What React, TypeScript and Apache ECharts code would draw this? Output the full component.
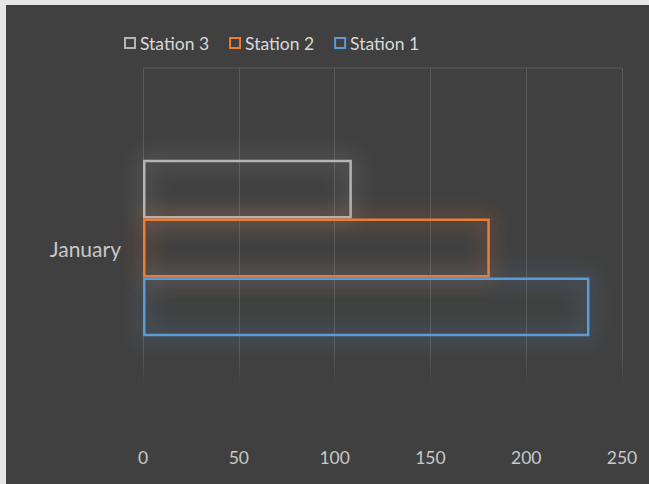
import React, { useEffect, useRef } from "react";
import * as echarts from "echarts";

const categories = ["January"];
const seriesNames = ["Station 3", "Station 2", "Station 1"];
const station3 = [109];
const station2 = [181];
const station1 = [233];
const seriesColors = ["#b4b4b4", "#ed7d31", "#5b9bd5"];
const legendOrder = ["Station 3", "Station 2", "Station 1"];

export default function App() {
  const ref = useRef<HTMLDivElement>(null);
  useEffect(() => {
    if (!ref.current) return;
    const chart = echarts.init(ref.current, undefined, { renderer: "svg" });
    const values = [station3, station2, station1];
    const font = "Lato, 'Noto Sans', sans-serif";
    chart.setOption({
      animation: false,
      backgroundColor: "#404040",
      textStyle: { fontFamily: font },
      legend: {
        data: legendOrder,
        left: 119,
        top: 29,
        itemWidth: 10,
        itemHeight: 10,
        itemGap: 20,
        icon: "rect",
        textStyle: { color: "#d9d9d9", fontSize: 17.5, fontFamily: font },
      },
      grid: { left: 143, right: 27, top: 68, height: 360 },
      xAxis: {
        type: "value",
        min: 0,
        max: 250,
        interval: 50,
        axisLine: { show: false },
        axisTick: { show: false },
        axisLabel: { color: "#c8c8c8", fontSize: 17.5, margin: 20, fontFamily: font },
        splitLine: { lineStyle: { color: "#5a5a5a", width: 1 } },
      },
      yAxis: {
        type: "category",
        data: categories,
        axisLine: { show: false },
        axisTick: { show: false },
        axisLabel: { color: "#c8c8c8", fontSize: 21, margin: 22, fontFamily: font },
        splitLine: { show: false },
      },
      series: seriesNames.map((name, i) => ({
        name,
        type: "bar",
        data: values[i],
        barGap: "0%",
        barCategoryGap: "51%",
        itemStyle: {
          color: "rgba(64,64,64,0)",
          borderColor: seriesColors[i],
          borderWidth: 2.5,
          shadowBlur: 22,
          shadowColor: seriesColors[i],
        },
        emphasis: { disabled: true },
      })),
      graphic: [
        {
          type: "rect",
          left: 0,
          top: 0,
          shape: { width: 6, height: 484 },
          style: { fill: "#e6e6e6" },
          z: 100,
        },
        {
          type: "rect",
          left: 0,
          top: 0,
          shape: { width: 649, height: 5 },
          style: { fill: "#e6e6e6" },
          z: 100,
        },
        {
          type: "line",
          shape: { x1: 143, y1: 68, x2: 622, y2: 68 },
          style: { stroke: "#5a5a5a", lineWidth: 1 },
          z: 50,
        },
        {
          type: "rect",
          shape: { x: 120, y: 350, width: 529, height: 85 },
          style: {
            fill: new echarts.graphic.LinearGradient(0, 0, 0, 1, [
              { offset: 0, color: "rgba(64,64,64,0)" },
              { offset: 0.45, color: "rgba(64,64,64,1)" },
              { offset: 1, color: "rgba(64,64,64,1)" },
            ]),
          },
          z: 50,
        },
      ],
    });
    return () => chart.dispose();
  }, []);
  return (
    <div
      ref={ref}
      style={{ position: "fixed", left: 0, top: 0, width: 649, height: 484 }}
    />
  );
}
